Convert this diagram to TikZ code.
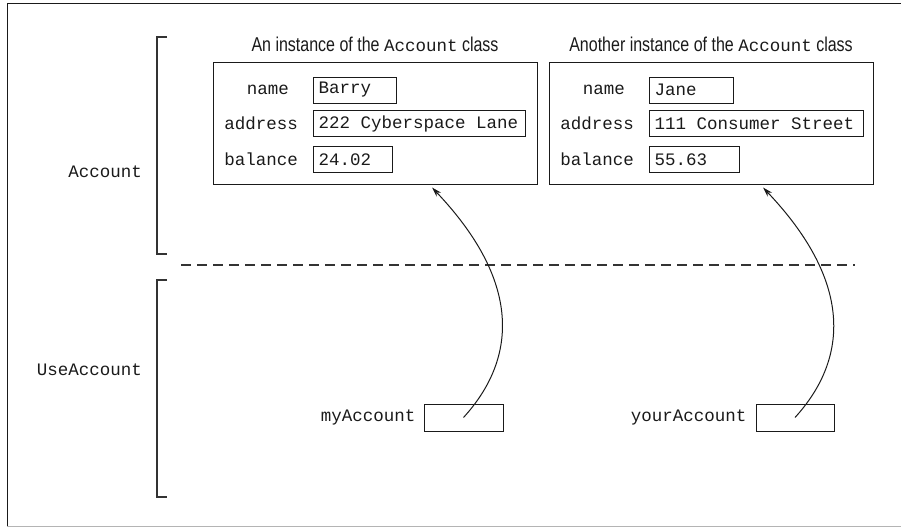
\documentclass[tikz,border=0pt]{standalone}
\usepackage{fontspec}
\setmainfont{Liberation Sans}[FakeStretch=0.8]
\setmonofont{Liberation Mono}
\usetikzlibrary{arrows.meta,positioning}
\definecolor{Ink}{HTML}{1A1A1A}
\definecolor{RuleGray}{HTML}{333333}
\definecolor{FrameGray}{HTML}{B4B4B4}
\newcommand{\monosize}{\fontsize{17.5}{20}\selectfont\ttfamily}
\newcommand{\codeword}[1]{{\monosize #1}}
\newcommand{\blank}{\char"20\relax}

\begin{document}
\begin{tikzpicture}[x=1pt, y=-1pt,
      obj/.style={
        draw=Ink,
        line width=1pt,
        minimum width=324pt,
        minimum height=122pt,
        inner sep=0pt
      },
      field/.style={
        draw=Ink,
        line width=1pt,
        anchor=west,
        minimum height=26pt,
        inner xsep=5pt,
        inner ysep=0pt,
        align=left,
        text=Ink,
        font=\monosize
      },
      fieldname/.style={inner sep=0pt, text=Ink, font=\monosize},
      title/.style={inner sep=0pt, text=Ink, font=\fontsize{20}{22}\selectfont},
      ref/.style={draw=Ink, line width=1pt, minimum width=79pt, minimum height=27pt, inner sep=0pt},
      bracket/.style={draw=RuleGray, line width=1.5pt},
      divider/.style={draw=RuleGray, line width=1.5pt, dash pattern=on 10pt off 6pt},
      points/.style={-{Stealth[length=10pt, width=6pt]}, draw=Ink, line width=1pt},
      node distance=15pt
    ]
      \useasboundingbox (0,0) rectangle (901,527);
      \draw[Ink, line width=1pt] (901,4) -- (7,4) -- (7,526);
      \draw[FrameGray, line width=1pt] (7,526) -- (901,526);

      \node[obj] (objA) at (375,123) {};
      \node[obj] (objB) at (711,123) {};
      \node[title, above=10pt of objA] (titleA) {An instance of the \codeword{Account} class};
      \node[title, above=10pt of objB] (titleB) {Another instance of the \codeword{Account} class};

      \node[field, text width=73pt] (nameA) at (313,90) {Barry};
      \node[field, text width=202pt] (addressA) at (313,123.5) {222\blank Cyberspace\blank Lane};
      \node[field, text width=69pt] (balanceA) at (313,159.5) {24.02};
      \node[fieldname, left=24pt of nameA] {name};
      \node[fieldname, left=of addressA] {address};
      \node[fieldname, left=of balanceA] {balance};

      \node[field, text width=74pt] (nameB) at (649,90) {Jane};
      \node[field, text width=204pt] (addressB) at (649,123.5) {111\blank Consumer\blank Street};
      \node[field, text width=80pt] (balanceB) at (649,159.5) {55.63};
      \node[fieldname, left=24pt of nameB] {name};
      \node[fieldname, left=of addressB] {address};
      \node[fieldname, left=of balanceB] {balance};

      \node[fieldname, anchor=east] (clsAccount) at (142,172) {Account};
      \node[fieldname, anchor=east] (clsUse) at (142,370) {UseAccount};
      \draw[bracket] (167,37) -- (157,37) -- (157,254) -- (167,254);
      \draw[bracket] (167,280) -- (157,280) -- (157,497) -- (167,497);
      \draw[divider] (181,265) -- (855,265);

      \node[ref] (refA) at (463.5,417.5) {};
      \node[ref, minimum width=78pt] (refB) at (795,417.5) {};
      \node[fieldname, left=8pt of refA] (varA) {myAccount};
      \node[fieldname, left=9pt of refB] (varB) {yourAccount};

      \draw[points] (refA.center) .. controls +(51,-56) and +(93,98) .. ([xshift=57pt, yshift=-3pt]objA.south);
      \draw[points] (refB.center) .. controls +(51,-56) and +(93,98) .. ([xshift=52pt, yshift=-3pt]objB.south);
    \end{tikzpicture}
\end{document}
